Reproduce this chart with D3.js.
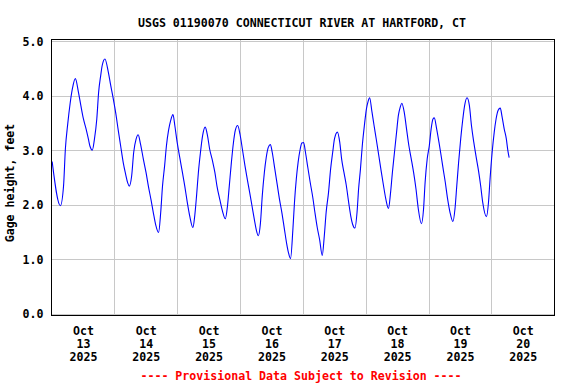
<!DOCTYPE html>
<html>
<head>
<meta charset="utf-8">
<script src="https://cdn.jsdelivr.net/npm/d3@7"></script>
<style>
    body { margin: 0; background: #fff; }
    text { font-family: "DejaVu Sans Mono", monospace; font-weight: bold; font-size: 11.6px; }
</style>
</head>
<body>
<svg id="chart"></svg>
<script>
const title = "USGS 01190070 CONNECTICUT RIVER AT HARTFORD, CT";
const yTitle = "Gage height, feet";
const note = "---- Provisional Data Subject to Revision ----";
const startDay = "2025-10-13";
const endDay = "2025-10-21";

// hours after Oct 13 00:00
const hours = [
    0.25, 3.4, 4.6, 5.3, 6.2, 7.1, 8.0, 9.1, 10.3, 11.2, 12.2, 13.2, 14.1, 14.7, 15.6,
    16.4, 17.3, 18.0, 18.8, 19.4, 20.4, 21.7, 22.6, 23.6, 24.6, 25.5, 26.4, 27.4, 28.3, 29.1, 29.7,
    30.6, 31.4, 32.3, 33.1, 34.0, 35.1, 36.1, 37.0, 38.0, 38.9, 39.8, 40.9,
    41.7, 42.4, 43.2, 43.9, 44.7, 45.5, 46.4, 47.1, 48.0, 49.0, 50.0, 50.9, 51.8, 52.8, 54.0,
    54.7, 55.4, 56.1, 56.9, 57.7, 58.7, 59.6, 60.4, 61.5, 62.4, 63.2, 64.3, 65.3, 66.4,
    67.2, 67.9, 68.7, 69.5, 70.2, 71.1, 72.0, 72.9, 73.9, 74.8, 75.7, 76.6, 77.5, 78.2, 79.0,
    79.8, 80.5, 81.3, 82.0, 82.8, 83.6, 84.3, 85.3, 86.2, 87.1, 88.0, 88.9, 89.8, 90.5, 91.3,
    92.2, 92.8, 93.5, 94.2, 95.0, 95.6, 96.3, 97.0, 97.9, 98.8, 99.8, 100.6, 101.5, 102.4, 103.4,
    104.2, 104.9, 105.8, 106.6, 107.4, 108.1, 109.2, 110.1, 110.8, 111.7, 112.6, 113.5, 114.3, 115.0, 115.9,
    116.7, 117.3, 118.0, 118.7, 119.5, 120.3, 120.9, 121.5, 122.4, 123.2, 124.1, 125.0, 125.9, 126.8, 127.7, 128.7,
    129.5, 130.2, 131.0, 131.8, 132.5, 133.2, 133.8, 134.7, 135.6, 136.5, 137.4, 138.3, 139.2, 140.1, 141.3,
    142.1, 142.7, 143.5, 144.3, 145.0, 145.7, 146.2, 147.1, 148.0, 148.8, 149.6, 150.4, 151.3, 152.2, 153.3,
    154.1, 154.8, 155.5, 156.3, 157.1, 157.8, 158.7, 159.6, 160.4, 161.3, 162.2, 163.1, 163.9, 164.7, 166.1,
    166.9, 167.5, 168.3, 169.1, 169.8, 170.6, 171.4, 172.1, 172.9, 173.7, 174.3, 174.8
];
const gageFt = [
    2.79, 1.98, 2.34, 3.02, 3.48, 3.85, 4.13, 4.31, 4.06, 3.82, 3.57, 3.39, 3.20, 3.07, 3.00,
    3.20, 3.57, 4.06, 4.37, 4.56, 4.67, 4.43, 4.19, 3.94, 3.66, 3.36, 3.08, 2.77, 2.56, 2.40, 2.34,
    2.52, 2.96, 3.20, 3.28, 3.11, 2.83, 2.59, 2.34, 2.09, 1.85, 1.63, 1.49,
    1.85, 2.34, 2.71, 3.08, 3.36, 3.54, 3.65, 3.45, 3.14, 2.86, 2.59, 2.34, 2.06, 1.79, 1.58,
    1.79, 2.16, 2.59, 2.96, 3.26, 3.42, 3.26, 3.02, 2.80, 2.59, 2.34, 2.09, 1.88, 1.74,
    1.97, 2.34, 2.77, 3.14, 3.36, 3.45, 3.29, 3.02, 2.71, 2.46, 2.22, 1.97, 1.72, 1.54, 1.43,
    1.66, 2.16, 2.59, 2.86, 3.05, 3.10, 2.96, 2.65, 2.37, 2.09, 1.85, 1.57, 1.29, 1.12, 1.01,
    1.55, 2.04, 2.47, 2.78, 3.02, 3.13, 3.14, 2.96, 2.68, 2.41, 2.13, 1.86, 1.58, 1.36, 1.07,
    1.43, 1.86, 2.22, 2.65, 2.96, 3.21, 3.33, 3.14, 2.84, 2.59, 2.35, 2.04, 1.79, 1.64, 1.57,
    1.86, 2.29, 2.65, 3.08, 3.45, 3.76, 3.89, 3.96, 3.70, 3.45, 3.18, 2.90, 2.62, 2.35, 2.10, 1.93,
    2.22, 2.59, 2.96, 3.33, 3.64, 3.79, 3.86, 3.70, 3.39, 3.08, 2.84, 2.59, 2.29, 1.92, 1.65,
    1.92, 2.41, 2.84, 3.08, 3.39, 3.57, 3.59, 3.39, 3.14, 2.90, 2.65, 2.41, 2.10, 1.86, 1.69,
    1.92, 2.35, 2.78, 3.21, 3.57, 3.82, 3.96, 3.82, 3.45, 3.14, 2.87, 2.62, 2.35, 2.04, 1.78,
    2.04, 2.47, 2.96, 3.33, 3.57, 3.73, 3.77, 3.61, 3.39, 3.21, 2.99, 2.86
];
const yTicks = [0, 1, 2, 3, 4, 5];

const width = 576;
const height = 384;
const frame = {left: 51.5, right: 554.5, top: 39.5, bottom: 315.5};

const svg = d3.select("#chart")
    .attr("width", width)
    .attr("height", height)
    .attr("viewBox", [0, 0, width, height]);

const t0 = new Date(startDay + "T00:00:00Z");
const data = hours.map((h, i) => ({date: new Date(t0.getTime() + h * 3600e3), value: gageFt[i]}));

const x = d3.scaleUtc()
    .domain([t0, new Date(endDay + "T00:00:00Z")])
    .range([51.5, 554.2]);

const y = d3.scaleLinear()
    .domain([0, 5])
    .range([313.7, 41]);

const days = d3.utcDay.range(t0, new Date(endDay + "T00:00:00Z"));

// grid
svg.append("g")
    .attr("stroke", "#c8c8c8")
    .attr("shape-rendering", "crispEdges")
    .call(g => g.selectAll("line.v")
        .data(days.slice(1))
        .join("line")
        .attr("class", "v")
        .attr("x1", d => Math.round(x(d)) + 0.5)
        .attr("x2", d => Math.round(x(d)) + 0.5)
        .attr("y1", frame.top)
        .attr("y2", frame.bottom))
    .call(g => g.selectAll("line.h")
        .data(yTicks)
        .join("line")
        .attr("class", "h")
        .attr("x1", frame.left)
        .attr("x2", frame.right)
        .attr("y1", d => Math.round(y(d)) + 0.5)
        .attr("y2", d => Math.round(y(d)) + 0.5));

// series
svg.append("path")
    .datum(data)
    .attr("fill", "none")
    .attr("stroke", "#0000ff")
    .attr("stroke-width", 1.1)
    .attr("d", d3.line()
        .x(d => x(d.date))
        .y(d => y(d.value))
        .curve(d3.curveMonotoneX));

// frame
svg.append("rect")
    .attr("x", frame.left)
    .attr("y", frame.top)
    .attr("width", frame.right - frame.left)
    .attr("height", frame.bottom - frame.top)
    .attr("fill", "none")
    .attr("stroke", "#000")
    .attr("stroke-width", 1.2)
    .attr("shape-rendering", "crispEdges");

// y axis labels
const yAxis = d3.axisLeft(y)
    .tickValues(yTicks)
    .tickFormat(d3.format(".1f"))
    .tickSize(0)
    .tickPadding(8);

svg.append("g")
    .attr("transform", `translate(${frame.left},0)`)
    .call(yAxis)
    .call(g => g.select(".domain").remove())
    .call(g => g.selectAll("text")
        .attr("fill", "#000")
        .attr("dy", "0.36em")
        .style("font-size", "11.6px")
        .style("font-family", "DejaVu Sans Mono"));

// x axis labels (centred on noon)
const fmtMon = d3.utcFormat("%b");
const fmtDay = d3.utcFormat("%d");
const fmtYear = d3.utcFormat("%Y");

const xAxis = d3.axisBottom(x)
    .tickValues(days.map(d => d3.utcHour.offset(d, 12)))
    .tickSize(0)
    .tickFormat("");

svg.append("g")
    .attr("transform", `translate(0,${frame.bottom})`)
    .call(xAxis)
    .call(g => g.select(".domain").remove())
    .call(g => g.selectAll(".tick").each(function (d) {
        const t = d3.select(this).append("text")
            .attr("fill", "#000")
            .attr("text-anchor", "middle")
            .style("font-size", "11.6px")
            .style("font-family", "DejaVu Sans Mono");
        [fmtMon(d), fmtDay(d), fmtYear(d)].forEach((s, i) => {
            t.append("tspan").attr("x", 0).attr("y", 19.5 + i * 13.2).text(s);
        });
    }));

// titles
svg.append("text")
    .attr("x", 302)
    .attr("y", 26.5)
    .attr("text-anchor", "middle")
    .text(title);

svg.append("text")
    .attr("transform", "translate(14,183) rotate(-90)")
    .attr("text-anchor", "middle")
    .text(yTitle);

svg.append("text")
    .attr("x", 301)
    .attr("y", 379.5)
    .attr("text-anchor", "middle")
    .attr("fill", "#ff0000")
    .text(note);
</script>
</body>
</html>
